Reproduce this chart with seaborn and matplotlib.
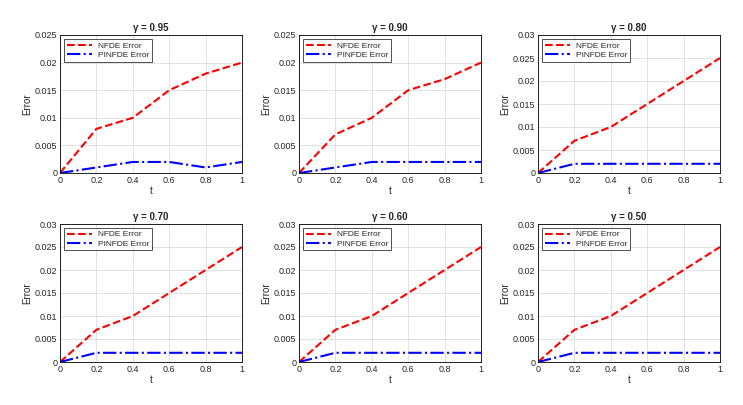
import matplotlib
matplotlib.use("Agg")
import matplotlib.pyplot as plt
import seaborn as sns
import numpy as np

sns.set_theme(style="white")
plt.rcParams['font.family'] = ['Liberation Sans', 'DejaVu Sans']

t = [0, 0.2, 0.4, 0.6, 0.8, 1.0]
gammas = ["0.95", "0.90", "0.80", "0.70", "0.60", "0.50"]
nfde = [
    [0, 0.008, 0.010, 0.015, 0.018, 0.020],
    [0, 0.007, 0.010, 0.015, 0.017, 0.020],
    [0, 0.007, 0.010, 0.015, 0.020, 0.025],
    [0, 0.007, 0.010, 0.015, 0.020, 0.025],
    [0, 0.007, 0.010, 0.015, 0.020, 0.025],
    [0, 0.007, 0.010, 0.015, 0.020, 0.025],
]
pinfde = [
    [0, 0.001, 0.002, 0.002, 0.001, 0.002],
    [0, 0.001, 0.002, 0.002, 0.002, 0.002],
    [0, 0.002, 0.002, 0.002, 0.002, 0.002],
    [0, 0.002, 0.002, 0.002, 0.002, 0.002],
    [0, 0.002, 0.002, 0.002, 0.002, 0.002],
    [0, 0.002, 0.002, 0.002, 0.002, 0.002],
]
ymax = [0.025, 0.025, 0.03, 0.03, 0.03, 0.03]

W, H = 743, 405
fig = plt.figure(figsize=(W/100, H/100), dpi=100)
lefts = [60, 299, 538]
tops = [35, 224]
AH = 138
for i in range(6):
    r, c = divmod(i, 3)
    ax = fig.add_axes([lefts[c]/W, 1 - (tops[r]+AH)/H, 182/W, AH/H])
    sns.lineplot(x=t, y=nfde[i], ax=ax, color="red", linestyle="--", linewidth=1.5, label="NFDE Error")
    sns.lineplot(x=t, y=pinfde[i], ax=ax, color="blue", linestyle="-.", linewidth=1.5, label="PINFDE Error")
    ax.set_xlim(0, 1)
    ax.set_ylim(0, ymax[i])
    ax.set_xticks([0, 0.2, 0.4, 0.6, 0.8, 1])
    ax.set_xticklabels(["0", "0.2", "0.4", "0.6", "0.8", "1"])
    yt = np.arange(0, ymax[i] + 1e-9, 0.005)
    ax.set_yticks(yt)
    ax.set_yticklabels(["0" if v == 0 else f"{v:g}" for v in yt])
    ax.grid(True, color="#dddddd", linewidth=0.6)
    ax.tick_params(labelsize=6.5, direction="in", length=2, pad=2)
    for s in ax.spines.values():
        s.set_color("black"); s.set_linewidth(0.6)
    ax.set_xlabel("t", fontsize=7, labelpad=1)
    ax.set_ylabel("Error", fontsize=7, labelpad=2)
    ax.set_title(f"γ = {gammas[i]}", fontsize=7, fontweight="bold", pad=3)
    leg = ax.legend(loc="upper left", fontsize=6, frameon=True, fancybox=False,
                    edgecolor="black", handlelength=3, borderpad=0.3, labelspacing=0.2)
    leg.get_frame().set_linewidth(0.6)

fig.savefig("out.png", dpi=100)
